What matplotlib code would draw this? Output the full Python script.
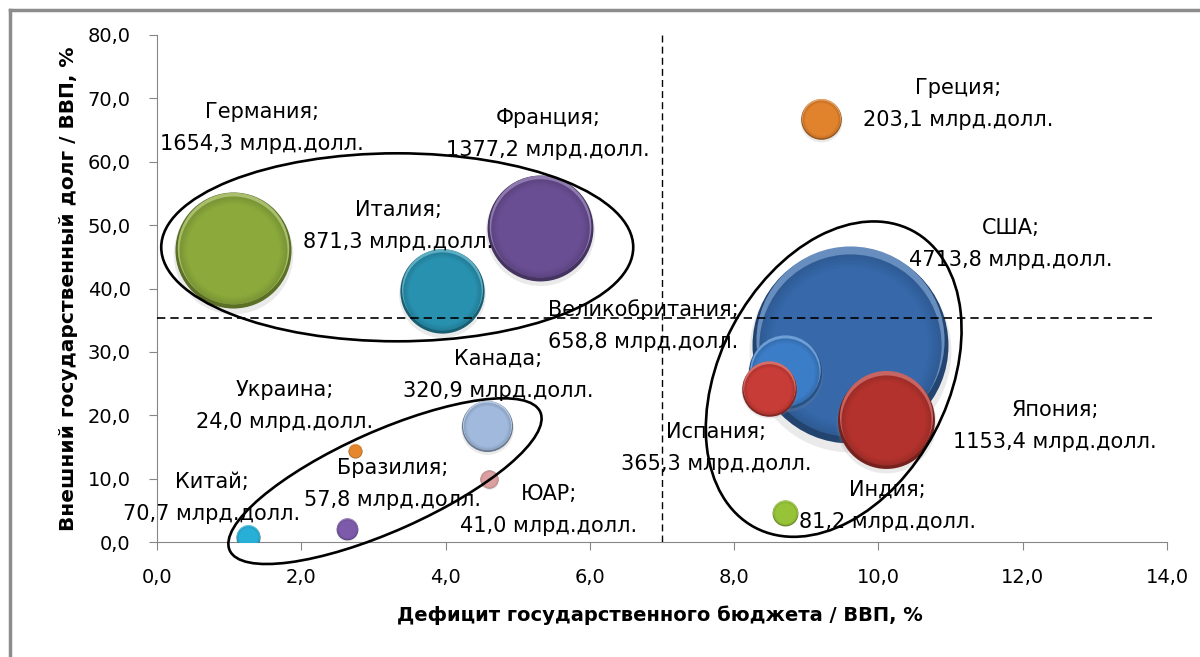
import numpy as np
import matplotlib
matplotlib.use("Agg")
import matplotlib.pyplot as plt
from matplotlib.colors import to_rgb
from matplotlib.patches import Ellipse
from matplotlib.lines import Line2D
from matplotlib.ticker import FuncFormatter, MultipleLocator
from matplotlib.transforms import offset_copy, ScaledTranslation

plt.rcParams['font.family'] = ['DejaVu Sans']

# deficit / GDP (%), external debt / GDP (%), external debt (bn USD)
countries = ['Германия', 'Франция', 'Италия', 'Греция', 'США', 'Великобритания',
             'Испания', 'Япония', 'Индия', 'Канада', 'Украина', 'ЮАР',
             'Бразилия', 'Китай']
deficit = [1.05, 5.31, 3.95, 9.20, 9.61, 8.70, 8.49, 10.10, 8.70, 4.58, 2.75, 4.60, 2.63, 1.26]
debt = [46.0, 49.5, 39.6, 66.7, 31.1, 26.9, 24.2, 19.3, 4.65, 18.3, 14.4, 9.9, 2.05, 0.8]
debt_bn = [1654.3, 1377.2, 871.3, 203.1, 4713.8, 658.8, 365.3, 1153.4, 81.2, 320.9,
           24.0, 41.0, 57.8, 70.7]
colors = ['#8CAA3C', '#6A4E94', '#2891AF', '#E1822D', '#3668AA', '#3C7DC8', '#C83C37',
          '#B4322D', '#96C337', '#A0B9DC', '#E6872D', '#DCA0A0', '#7D5AAA', '#28AFD7']

# where each two-line label sits (data coords)
label_pos = {
    'Германия': (1.46, 65.3), 'Франция': (5.42, 64.4), 'Италия': (3.34, 49.9),
    'Греция': (11.1, 69.1), 'США': (11.83, 47.0), 'Великобритания': (6.74, 34.1),
    'Испания': (7.75, 14.8), 'Япония': (12.45, 18.3), 'Индия': (10.13, 5.7),
    'Канада': (4.73, 26.4), 'Украина': (1.77, 21.5), 'ЮАР': (5.43, 5.05),
    'Бразилия': (3.26, 9.2), 'Китай': (0.76, 6.9),
}

fig = plt.figure(figsize=(12, 6.57), dpi=100)
ax = fig.add_axes([157 / 1200, 115 / 657, 1010 / 1200, 507 / 657])
ax.set_xlim(0, 14)
ax.set_ylim(0, 80)

fmt = FuncFormatter(lambda v, p: f'{v:.1f}'.replace('.', ','))
ax.xaxis.set_major_locator(MultipleLocator(2))
ax.yaxis.set_major_locator(MultipleLocator(10))
ax.xaxis.set_major_formatter(fmt)
ax.yaxis.set_major_formatter(fmt)
for s in ['top', 'right']:
    ax.spines[s].set_visible(False)
for s in ['left', 'bottom']:
    ax.spines[s].set_color('#868686')
ax.tick_params(direction='out', length=6, color='#868686', labelsize=14, pad=13)


def shade(c, k):
    c = np.array(to_rgb(c))
    if k < 0:
        return tuple(c * (1 + k))
    return tuple(c + (1 - c) * k)


def bubble(x, y, v, c, z):
    d = 2 * 1.427 * np.sqrt(v) * 0.72  # marker diameter in points
    up = offset_copy(ax.transData, fig, y=d * 0.025, units='points')
    down = offset_copy(ax.transData, fig, y=-d * 0.03, units='points')
    ax.scatter(x, y, s=(d * 1.03) ** 2, color='0.55', alpha=0.18, lw=0,
               transform=down, zorder=z)
    ax.scatter(x, y, s=d ** 2, color=shade(c, -0.35), lw=0, zorder=z)
    ax.scatter(x, y, s=(d * 0.96) ** 2, color=shade(c, 0.25), lw=0,
               transform=up, zorder=z)
    for i, f in enumerate(np.linspace(0.93, 0.8, 5)):
        ax.scatter(x, y, s=(d * f) ** 2, color=shade(c, -0.12 + 0.03 * i), lw=0,
                   zorder=z)


order = np.argsort(debt_bn)[::-1]
for n, i in enumerate(order):
    bubble(deficit[i], debt[i], debt_bn[i], colors[i], 3 + n * 0.01)

# labels: name on top line, value below
line_up = offset_copy(ax.transData, fig, y=11.5, units='points')
line_down = offset_copy(ax.transData, fig, y=-11.5, units='points')
for i, name in enumerate(countries):
    lx, ly = label_pos[name]
    val = f'{debt_bn[i]:.1f}'.replace('.', ',')
    ax.text(lx, ly, f'{name};', ha='center', va='center', fontsize=15,
            transform=line_up, zorder=6)
    ax.text(lx, ly, f'{val} млрд.долл.', ha='center', va='center', fontsize=15,
            transform=line_down, zorder=6)

# threshold lines
ax.plot([7, 7], [0, 80], color='black', lw=1, ls=(0, (5, 3)), zorder=5)
ax.plot([0, 13.83], [35.4, 35.4], color='black', lw=1.2, ls=(0, (5, 3)), zorder=5)

# group outlines, sized in inches around a data-space centre
groups = [((3.33, 46.5), 4.72, 1.88, 0),
          ((3.16, 9.6), 3.40, 1.0, 24),
          ((9.38, 25.7), 3.36, 2.28, 62)]
for (cx, cy), w, h, a in groups:
    tr = fig.dpi_scale_trans + ScaledTranslation(cx, cy, ax.transData)
    ax.add_patch(Ellipse((0, 0), w, h, angle=a, fill=False, ec='black', lw=1.9,
                         transform=tr, zorder=5, clip_on=False))

ax.set_xlabel('Дефицит государственного бюджета / ВВП, %', fontsize=14,
              fontweight='bold')
ax.set_ylabel('Внешний государственный долг / ВВП, %', fontsize=14.5,
              fontweight='bold')
ax.xaxis.set_label_coords(0.498, -0.125)
ax.yaxis.set_label_coords(-0.078, 0.5)

# chart frame
fig.add_artist(Line2D([10 / 1200, 10 / 1200], [0, 647 / 657], color='#8C8C8C', lw=2.5,
                      transform=fig.transFigure))
fig.add_artist(Line2D([10 / 1200, 1], [647 / 657, 647 / 657], color='#8C8C8C', lw=2.5,
                      transform=fig.transFigure))

fig.savefig('out.png', dpi=100)
